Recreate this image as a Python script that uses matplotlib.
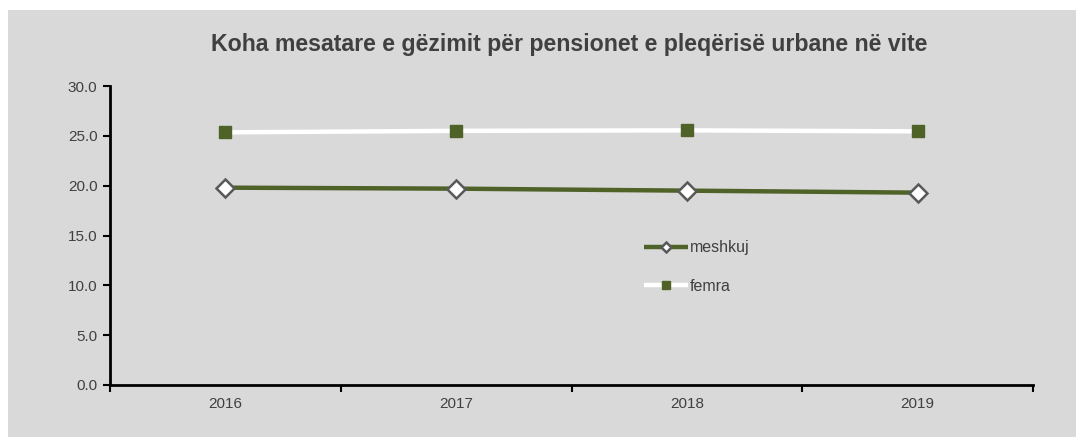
import numpy as np
import matplotlib
matplotlib.use('Agg')
import matplotlib.pyplot as plt
from matplotlib.patches import Rectangle
from matplotlib.ticker import FormatStrFormatter

plt.rcParams['font.family'] = ['Liberation Sans', 'DejaVu Sans']

years = ['2016', '2017', '2018', '2019']
meshkuj = [19.8, 19.7, 19.5, 19.3]
femra = [25.35, 25.5, 25.55, 25.45]

green = '#4f6228'
fig = plt.figure(figsize=(10.76, 4.37), dpi=100)
fig.patches.append(Rectangle((8/1076, 0), 1, 1 - 10/437, transform=fig.transFigure,
                             facecolor='#d9d9d9', edgecolor='none', zorder=-10))

ax = fig.add_axes([110/1076, 52/437, 923/1076, 299/437])
ax.set_facecolor('none')
x = np.arange(len(years))

ax.plot(x, meshkuj, color=green, lw=3.2, marker='D', ms=9, mfc='white', mec='#595959',
        mew=1.8, label='meshkuj', solid_capstyle='butt')
ax.plot(x, femra, color='white', lw=3.2, marker='s', ms=9, mfc=green, mec=green,
        label='femra', solid_capstyle='butt')

ax.set_xlim(-0.5, 3.5)
ax.set_ylim(0, 30)
ax.set_yticks(np.arange(0, 31, 5))
ax.yaxis.set_major_formatter(FormatStrFormatter('%.1f'))
ax.set_xticks(np.arange(-0.5, 3.6, 1))
ax.set_xticklabels([])
ax.set_xticks(x, minor=True)
ax.set_xticklabels(years, minor=True)
ax.tick_params(axis='x', which='major', direction='out', length=5, width=1.5, color='black')
ax.tick_params(axis='x', which='minor', length=0, pad=9)
ax.tick_params(axis='y', direction='out', length=5, width=1.5, pad=4)
ax.tick_params(which='both', labelsize=11, labelcolor='#404040')
for s in ['top', 'right']:
    ax.spines[s].set_visible(False)
for s in ['left', 'bottom']:
    ax.spines[s].set_linewidth(2)
    ax.spines[s].set_color('black')

fig.text(569/1076, 1 - 45/437, 'Koha mesatare e gëzimit për pensionet e pleqërisë urbane në vite',
         ha='center', va='center', fontsize=16.7, fontweight='bold', color='#404040')

leg = ax.legend(loc='upper left', bbox_to_anchor=(520/923, 159/299), frameon=False,
                fontsize=11.5, handlelength=2.7, handletextpad=0.15, labelspacing=1.45,
                markerscale=0.6)
for t in leg.get_texts():
    t.set_color('#404040')

fig.savefig('out.png', dpi=100)
